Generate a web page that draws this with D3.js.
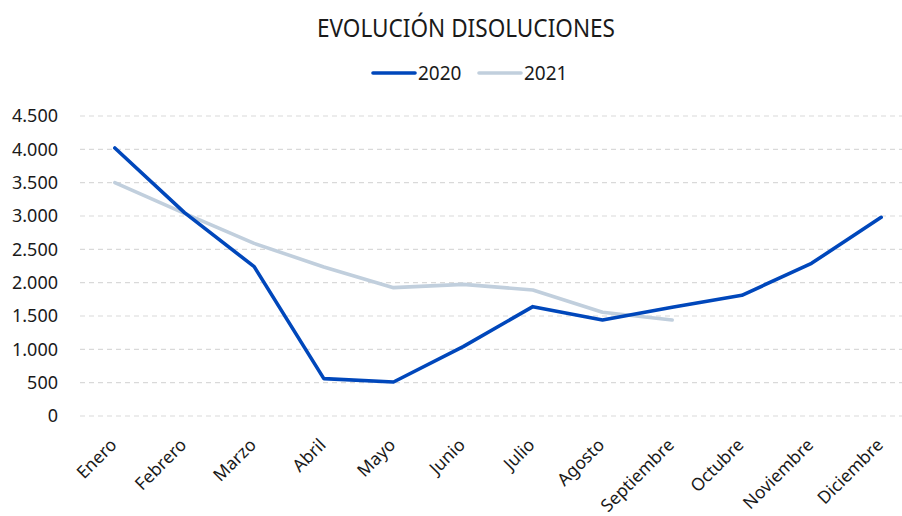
<!DOCTYPE html>
<html>
<head>
<meta charset="utf-8">
<script src="https://cdn.jsdelivr.net/npm/d3@7"></script>
<style>
  body { margin: 0; background: #fff; }
  text { font-family: "Noto Sans", "Open Sans", sans-serif; fill: #1a1a1a; }
</style>
</head>
<body>
<script>
const width = 902
const height = 516
const months = ['Enero', 'Febrero', 'Marzo', 'Abril', 'Mayo', 'Junio', 'Julio',
    'Agosto', 'Septiembre', 'Octubre', 'Noviembre', 'Diciembre']
const values2020 = [4020, 3050, 2240, 560, 510, 1040, 1640, 1440, 1630, 1810, 2290, 2980]
const values2021 = [3500, 3040, 2590, 2235, 1925, 1975, 1890, 1555, 1440]
const yTicks = [0, 500, 1000, 1500, 2000, 2500, 3000, 3500, 4000, 4500]
const seriesNames = ['2020', '2021']
const seriesColors = ['#0047bb', '#c1cfdd']

const plotLeft = 80
const plotRight = 916
const plotTop = 116
const plotBottom = 416

const x = d3.scalePoint()
    .domain(months)
    .range([plotLeft, plotRight])
    .padding(0.5)

const y = d3.scaleLinear()
    .domain([0, 4500])
    .range([plotBottom, plotTop])

const svg = d3.select('body')
    .append('svg')
    .attr('width', width)
    .attr('height', height)

// gridlines
svg.append('g')
    .selectAll('line')
    .data(yTicks)
    .enter()
    .append('line')
    .attr('x1', plotLeft)
    .attr('x2', plotRight)
    .attr('y1', d => y(d))
    .attr('y2', d => y(d))
    .attr('stroke', '#d9d9d9')
    .attr('stroke-width', 1.2)
    .attr('stroke-dasharray', '5,4')

// y axis labels
const fmt = d3.formatLocale({decimal: ',', thousands: '.', grouping: [3], currency: ['', '']}).format(',')
const yAxis = d3.axisLeft(y)
    .tickValues(yTicks)
    .tickFormat(fmt)
    .tickSize(0)
    .tickPadding(0)
svg.append('g')
    .attr('transform', `translate(58,0)`)
    .call(yAxis)
    .call(g => g.select('.domain').remove())
    .selectAll('text')
    .attr('font-size', 18)
    .attr('font-family', '"Noto Sans", sans-serif')
    .attr('fill', '#1a1a1a')

// x axis labels
svg.append('g')
    .selectAll('text')
    .data(months)
    .enter()
    .append('text')
    .attr('transform', d => `translate(${x(d) + 3},${446}) rotate(-45)`)
    .attr('text-anchor', 'end')
    .attr('font-size', 17.5)
    .text(d => d)

// lines
const line = d3.line()
    .x((d, i) => x(months[i]))
    .y(d => y(d))

svg.append('path')
    .datum(values2021)
    .attr('fill', 'none')
    .attr('stroke', seriesColors[1])
    .attr('stroke-width', 3.6)
    .attr('stroke-linejoin', 'round')
    .attr('stroke-linecap', 'round')
    .attr('d', line)

svg.append('path')
    .datum(values2020)
    .attr('fill', 'none')
    .attr('stroke', seriesColors[0])
    .attr('stroke-width', 3.6)
    .attr('stroke-linejoin', 'round')
    .attr('stroke-linecap', 'round')
    .attr('d', line)

// title
svg.append('text')
    .attr('x', 466)
    .attr('y', 37)
    .attr('text-anchor', 'middle')
    .attr('font-size', 25)
    .attr('textLength', 298)
    .attr('lengthAdjust', 'spacingAndGlyphs')
    .text('EVOLUCIÓN DISOLUCIONES')

// legend
const legendX = [373, 479]
const legend = svg.append('g')
    .selectAll('g')
    .data(seriesNames)
    .enter()
    .append('g')
    .attr('transform', (d, i) => `translate(${legendX[i]},73)`)
legend.append('line')
    .attr('x1', 0)
    .attr('x2', 42)
    .attr('stroke', (d, i) => seriesColors[i])
    .attr('stroke-width', 3.6)
    .attr('stroke-linecap', 'round')
legend.append('text')
    .attr('x', 45)
    .attr('y', 7)
    .attr('font-size', 19)
    .text(d => d)
</script>
</body>
</html>
